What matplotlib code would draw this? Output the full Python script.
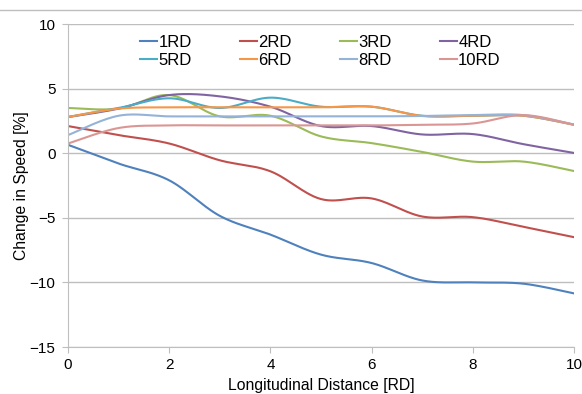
import numpy as np
import matplotlib.pyplot as plt
from matplotlib.lines import Line2D

plt.rcParams["font.family"] = ["Liberation Sans", "DejaVu Sans"]

# longitudinal distance [RD]
dist = [0, 1, 2, 3, 4, 5, 6, 7, 8, 9, 10]

# change in speed [%] per downstream distance
rd1 = [0.65, -0.8, -2.1, -4.85, -6.3, -7.85, -8.5, -9.85, -10.0, -10.1, -10.85]
rd2 = [2.1, 1.4, 0.75, -0.55, -1.4, -3.55, -3.5, -4.9, -4.95, -5.7, -6.5]
rd3 = [3.5, 3.45, 4.5, 2.85, 2.9, 1.3, 0.78, 0.1, -0.65, -0.65, -1.38]
rd4 = [2.8, 3.45, 4.5, 4.4, 3.6, 2.1, 2.1, 1.45, 1.48, 0.7, 0.02]
rd5 = [2.8, 3.5, 4.25, 3.5, 4.3, 3.6, 3.6, 2.9, 2.9, 2.9, 2.2]
rd6 = [2.8, 3.45, 3.55, 3.55, 3.55, 3.55, 3.6, 2.88, 2.9, 2.9, 2.2]
rd8 = [1.4, 2.9, 2.85, 2.85, 2.85, 2.85, 2.85, 2.88, 2.95, 2.95, 2.22]
rd10 = [0.75, 1.95, 2.15, 2.15, 2.15, 2.15, 2.15, 2.2, 2.3, 2.95, 2.2]

labels = ["1RD", "2RD", "3RD", "4RD", "5RD", "6RD", "8RD", "10RD"]
series = [rd1, rd2, rd3, rd4, rd5, rd6, rd8, rd10]
colors = ["#4F81BD", "#C0504D", "#9BBB59", "#8064A2",
          "#4BACC6", "#F79646", "#95B3D7", "#DA9694"]


def smooth(x, y, n=30):
    # Excel-style smoothed line: cubic Bezier through each point
    x = np.asarray(x, float)
    y = np.asarray(y, float)
    px = np.concatenate([[x[0]], x, [x[-1]]])
    py = np.concatenate([[y[0]], y, [y[-1]]])
    t = np.linspace(0, 1, n)[:, None]
    xs, ys = [], []
    for i in range(1, len(px) - 2):
        p0 = np.array([px[i], py[i]])
        p3 = np.array([px[i + 1], py[i + 1]])
        p1 = p0 + (np.array([px[i + 1], py[i + 1]]) - np.array([px[i - 1], py[i - 1]])) / 6
        p2 = p3 - (np.array([px[i + 2], py[i + 2]]) - np.array([px[i], py[i]])) / 6
        b = ((1 - t) ** 3) * p0 + 3 * ((1 - t) ** 2) * t * p1 + 3 * (1 - t) * t ** 2 * p2 + t ** 3 * p3
        xs.append(b[:, 0])
        ys.append(b[:, 1])
    return np.concatenate(xs), np.concatenate(ys)


fig = plt.figure(figsize=(5.82, 3.94), dpi=100)
ax = fig.add_axes([68 / 582, 1 - 347 / 394, (574 - 68) / 582, (347 - 24) / 394])

handles = {}
for lab, ys, c in zip(labels, series, colors):
    sx, sy = smooth(dist, ys)
    (h,) = ax.plot(sx, sy, color=c, lw=1.5, label=lab)
    handles[lab] = h

ax.set_xlim(0, 10)
ax.set_ylim(-15, 10)
ax.set_xticks(range(0, 11, 2))
ax.set_yticks(range(-15, 11, 5))
ax.yaxis.grid(True, color="#BEBEBE", lw=1)
ax.set_axisbelow(True)
for s in ["top", "right"]:
    ax.spines[s].set_visible(False)
for s in ["left", "bottom"]:
    ax.spines[s].set_color("#BEBEBE")
ax.tick_params(axis="both", colors="#BEBEBE", labelcolor="black", labelsize=11, length=4)
ax.tick_params(axis="y", pad=5)
ax.tick_params(axis="x", pad=4)

ax.set_ylabel("Change in Speed [%]", fontsize=11.3)
ax.set_xlabel("Longitudinal Distance [RD]", fontsize=11.3)
ax.yaxis.set_label_coords(-0.077, 0.5)
ax.xaxis.set_label_coords(0.5, -0.096)

order = ["1RD", "5RD", "2RD", "6RD", "3RD", "8RD", "4RD", "10RD"]
ax.legend([handles[k] for k in order], order, ncol=4, frameon=False,
          loc="upper left", bbox_to_anchor=(140 / 582, 1 - 35 / 394),
          bbox_transform=fig.transFigure, fontsize=12,
          handlelength=1.0, handletextpad=0.1, columnspacing=2.9,
          labelspacing=0.18, borderaxespad=0, borderpad=0)

fig.add_artist(Line2D([0, 1], [1 - 10 / 394, 1 - 10 / 394], color="#BEBEBE", lw=1))

fig.savefig("out.png", dpi=100)
